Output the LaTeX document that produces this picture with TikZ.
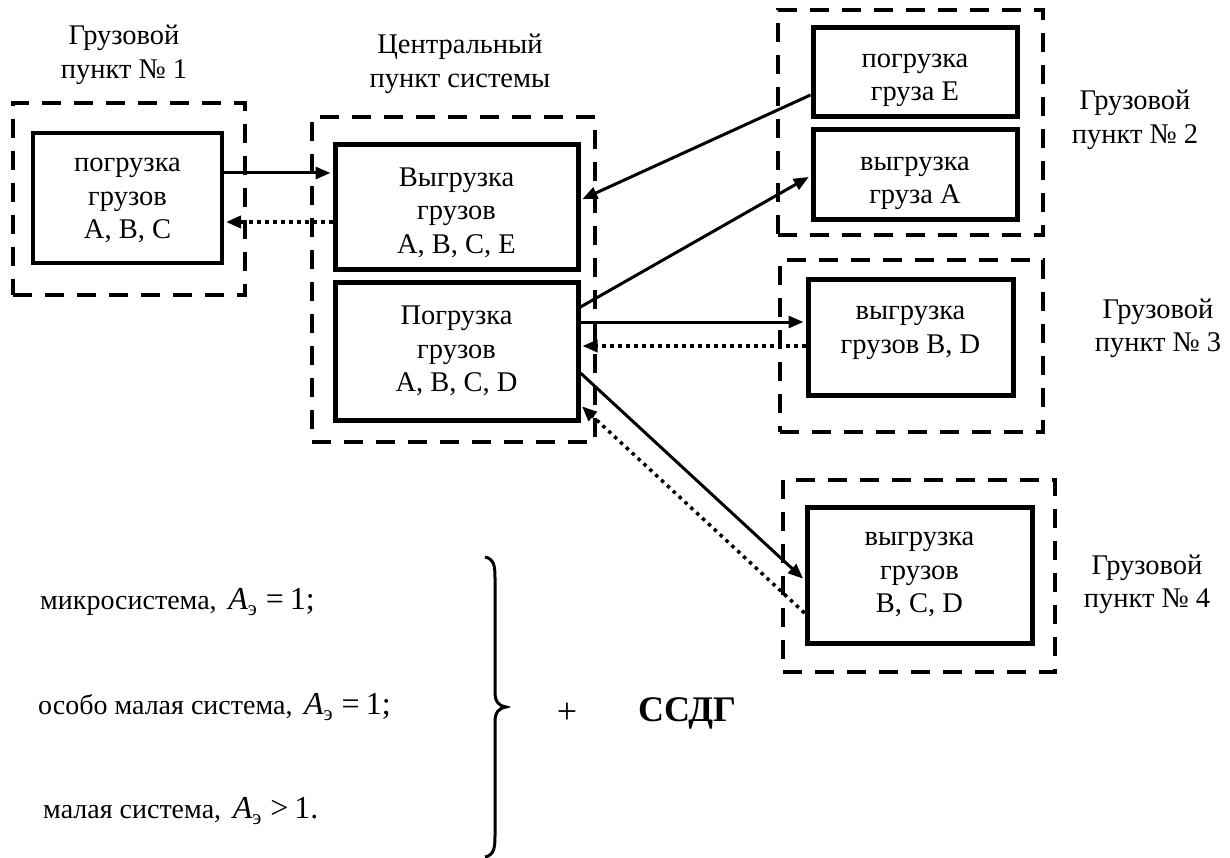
\documentclass[tikz,border=0pt]{standalone}
\usepackage{fontspec}
\setmainfont{Liberation Serif}
\usetikzlibrary{arrows.meta}

% effective-capacity symbol A with a Cyrillic subscript
\newcommand{\effA}{{\fontsize{32}{32}\selectfont\itshape A}\raisebox{-6pt}{\fontsize{21}{21}\selectfont э}}

\begin{document}
\begin{tikzpicture}[x=1pt,y=-1pt,
  boxtext/.style={font=\fontsize{28.5}{33.5}\selectfont, align=center, inner sep=0pt},
  intext/.style={boxtext, anchor=base},
  solidbox/.style={draw, line width=5pt, inner sep=0pt},
  groupbox/.style={draw, line width=3.5pt, dash pattern=on 19pt off 13pt, inner sep=0pt},
  flow/.style={line width=3pt, -{Triangle[length=15pt,width=12pt]}, shorten >=2pt},
  backflow/.style={line width=3.5pt, dash pattern=on 3.5pt off 4.5pt,
                   -{Triangle[length=15pt,width=12pt]}, shorten >=2pt},
  caption/.style={font=\fontsize{28}{30}\selectfont, anchor=base west, inner sep=0pt},
]
\useasboundingbox (0,0) rectangle (1230,858);

% --- dashed outlines of the cargo points ---
\node[groupbox, minimum width=232, minimum height=192] (g1) at (129,199) {};
\node[groupbox, minimum width=283, minimum height=325] (gc) at (453.5,279.5) {};
\node[groupbox, minimum width=265, minimum height=225] (g2) at (910.5,122.5) {};
\node[groupbox, minimum width=263, minimum height=172] (g3) at (911.5,346) {};
\node[groupbox, minimum width=272, minimum height=192] (g4) at (919,576) {};

% --- operation boxes (text hangs from the top of each box; the node
%     base is the baseline of the last line) ---
\node[solidbox, line width=4pt, minimum width=189, minimum height=130] (p1) at (127.5,198) {};
\node[intext] (p1t) at ([yshift=-108pt]p1.north) {погрузка\\грузов\\A, B, C};

\node[solidbox, minimum width=243, minimum height=125] (vyg) at (456.5,207.5) {};
\begin{scope}
  % the text frame trims the descenders of the last line
  \clip (335,145) rectangle (578,257);
  \node[intext] (vygt) at ([yshift=-111pt]vyg.north) {Выгрузка\\грузов\\A, B, C, E};
\end{scope}

\node[solidbox, minimum width=243, minimum height=137] (pog) at (456.5,351.5) {};
\node[intext] (pogt) at ([yshift=-111pt]pog.north) {Погрузка\\грузов\\A, B, C, D};

\node[solidbox, minimum width=204, minimum height=89] (e2) at (915,72.5) {};
\node[intext] (e2t) at ([yshift=-75.5pt]e2.north) {погрузка\\груза E};

\node[solidbox, minimum width=204, minimum height=90] (a2) at (915,175) {};
\node[intext] (a2t) at ([yshift=-76.5pt]a2.north) {выгрузка\\груза A};

\node[solidbox, minimum width=205, minimum height=115] (bd3) at (910.5,337.5) {};
\node[intext] (bd3t) at ([yshift=-75.5pt]bd3.north) {выгрузка\\грузов B, D};

\node[solidbox, minimum width=225, minimum height=136] (bcd4) at (919.5,575) {};
\node[intext] (bcd4t) at ([yshift=-108pt]bcd4.north) {выгрузка\\грузов\\B, C, D};

% --- point captions ---
\node[intext] (l1) at (124,78.5) {Грузовой\\пункт № 1};
\node[intext] (lc) at (460,87.5) {Центральный\\пункт системы};
\node[intext] (l2) at (1135,143.5) {Грузовой\\пункт № 2};
\node[intext] (l3) at (1158,351.5) {Грузовой\\пункт № 3};
\node[intext] (l4) at (1147,607.5) {Грузовой\\пункт № 4};

% --- flows between the points ---
\draw[flow] ([yshift=25pt]p1.east) -- ([yshift=34.5pt]vyg.west);
\draw[backflow] ([yshift=-14.5pt]vyg.west) -- ([yshift=-24pt]p1.east);
\draw[flow] ([yshift=-22.5pt]e2.west) -- ([yshift=7.5pt]vyg.east);
\draw[flow] ([yshift=44.5pt]pog.east) -- ([yshift=-1pt]a2.west);
\draw[flow] ([yshift=29.5pt]pog.east) -- ([yshift=15.5pt]bd3.west);
\draw[backflow] ([yshift=-8.5pt]bd3.west) -- ([yshift=5.5pt]pog.east);
\draw[flow] ([yshift=-21.5pt]pog.east) -- ([yshift=-5pt]bcd4.west);
\draw[backflow] ([yshift=-38pt]bcd4.west) -- ([yshift=-53.5pt]pog.east);

% --- system classes ---
\node[caption] (c1) at (40,609) {микросистема,\, \effA\hspace{9pt}{\fontsize{32}{32}\selectfont =\hspace{6pt}1;}};
\node[caption] (c2) at (38,714) {особо малая система,\, \effA\hspace{9pt}{\fontsize{32}{32}\selectfont =\hspace{6pt}1;}};
\node[caption] (c3) at (43,818) {малая система,\, \effA\hspace{9pt}{\fontsize{32}{32}\selectfont >\hspace{6pt}1.}};

% right curly brace joining the classes
\draw[line width=3pt] (485,557) .. controls (494,559) and (495,566) .. (495,578)
  -- (495,692) .. controls (495,702) and (499,706) .. (506,707)
  .. controls (499,708) and (495,712) .. (495,722)
  -- (495,836) .. controls (495,848) and (494,855) .. (485,857);

\node[font=\fontsize{36}{36}\selectfont, inner sep=0pt] (plus) at (567,713) {+};
\node[font=\fontsize{36}{40}\selectfont\bfseries, inner sep=0pt] (ssdg) at (687,713) {ССДГ};
\end{tikzpicture}
\end{document}
